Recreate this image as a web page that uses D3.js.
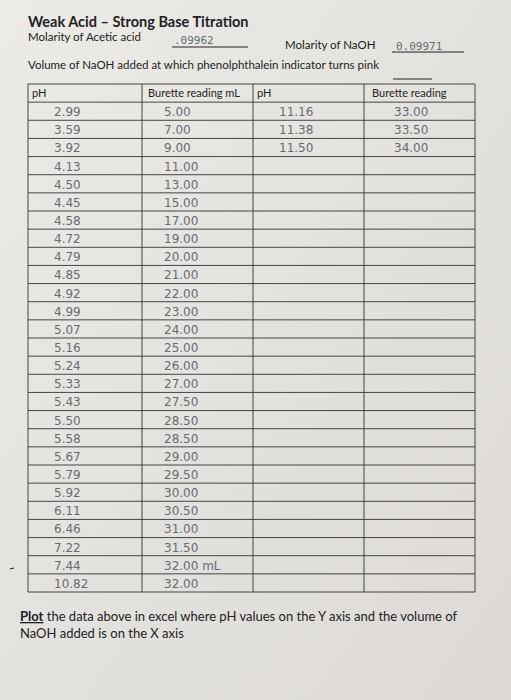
<!DOCTYPE html>
<html><head><meta charset="utf-8">
<script src="https://cdn.jsdelivr.net/npm/d3@7"></script>
<style>body{margin:0;background:#e6e4e1;}svg{display:block}</style>
</head><body>
<svg id="c" width="511" height="700"></svg>
<script>
const phLeft=["2.99","3.59","3.92","4.13","4.50","4.45","4.58","4.72","4.79","4.85","4.92","4.99","5.07","5.16","5.24","5.33","5.43","5.50","5.58","5.67","5.79","5.92","6.11","6.46","7.22","7.44","10.82"];
const volLeft=["5.00","7.00","9.00","11.00","13.00","15.00","17.00","19.00","20.00","21.00","22.00","23.00","24.00","25.00","26.00","27.00","27.50","28.50","28.50","29.00","29.50","30.00","30.50","31.00","31.50","32.00 mL","32.00"];
const phRight=["11.16","11.38","11.50"];
const volRight=["33.00","33.50","34.00"];
const headers=["pH","Burette reading mL","pH","Burette reading"];

const svg=d3.select("#c");
const defs=svg.append("defs");
const g=defs.append("linearGradient").attr("id","bg").attr("x1",0).attr("y1",0).attr("x2",1).attr("y2",1);
g.append("stop").attr("offset",0).attr("stop-color","#ecebe8");
g.append("stop").attr("offset",1).attr("stop-color","#dcd9d6");
svg.append("rect").attr("width",511).attr("height",700).attr("fill","url(#bg)");

const ink="#222", pen="#6a6a70";
const T=(x,y,t,o={})=>svg.append("text").attr("x",x).attr("y",y).text(t)
  .attr("font-family",o.f||"Lato,sans-serif").attr("font-size",o.s||12)
  .attr("font-weight",o.w||"normal").attr("fill",o.c||ink);
T(28,27,"Weak Acid – Strong Base Titration",{s:14.5,w:"bold"});
T(28,41,"Molarity of Acetic acid",{s:11.5});
T(174,44,".09962",{s:11,c:pen,f:"'DejaVu Sans Mono'"});
svg.append("line").attr("x1",172).attr("x2",248).attr("y1",47).attr("y2",47).attr("stroke",ink);
T(285,49,"Molarity of NaOH",{s:11.5});
T(396,50,"0.09971",{s:11,c:pen,f:"'DejaVu Sans Mono'"});
svg.append("line").attr("x1",392).attr("x2",464).attr("y1",52).attr("y2",52).attr("stroke",ink);
T(28,69,"Volume of NaOH added at which phenolphthalein indicator turns pink",{s:11.5});
svg.append("line").attr("x1",393).attr("x2",432).attr("y1",79).attr("y2",79).attr("stroke",ink);

const colEdges=[28,142,253,364,475];
const nRows=phLeft.length;
const y=d3.scaleBand().domain(d3.range(nRows+1)).range([84,592]);
const x=d3.scaleOrdinal().domain([0,1,2,3]).range(colEdges.slice(0,4));
const tbl=svg.append("g");
tbl.selectAll("line.h").data(d3.range(nRows+2)).join("line")
  .attr("x1",28).attr("x2",475)
  .attr("y1",i=>i<=nRows?y(i):592).attr("y2",i=>i<=nRows?y(i):592)
  .attr("stroke","#333").attr("stroke-width",0.9);
tbl.selectAll("line.v").data(colEdges).join("line")
  .attr("x1",d=>d).attr("x2",d=>d).attr("y1",84).attr("y2",592)
  .attr("stroke","#333").attr("stroke-width",0.9);
const hx=[4,6,4,8];
headers.forEach((h,i)=>T(x(i)+hx[i],y(0)+13,h,{s:11}));
const hand=(arr,col,dx)=>tbl.selectAll(null).data(arr).join("text")
  .attr("x",x(col)+dx).attr("y",(d,i)=>y(i+1)+14).text(d=>d)
  .attr("font-family","'DejaVu Sans'").attr("font-size",12).attr("fill",pen);
hand(phLeft,0,26);hand(volLeft,1,22);hand(phRight,2,26);hand(volRight,3,30);
svg.append("line").attr("x1",10).attr("x2",14).attr("y1",569).attr("y2",568).attr("stroke",ink);

const p=T(20,621,"",{s:13});
p.append("tspan").text("Plot").attr("font-weight","bold").attr("text-decoration","underline");
p.append("tspan").text(" the data above in excel where pH values on the Y axis and the volume of");
T(20,638,"NaOH added is on the X axis",{s:13});
</script>
</body></html>
